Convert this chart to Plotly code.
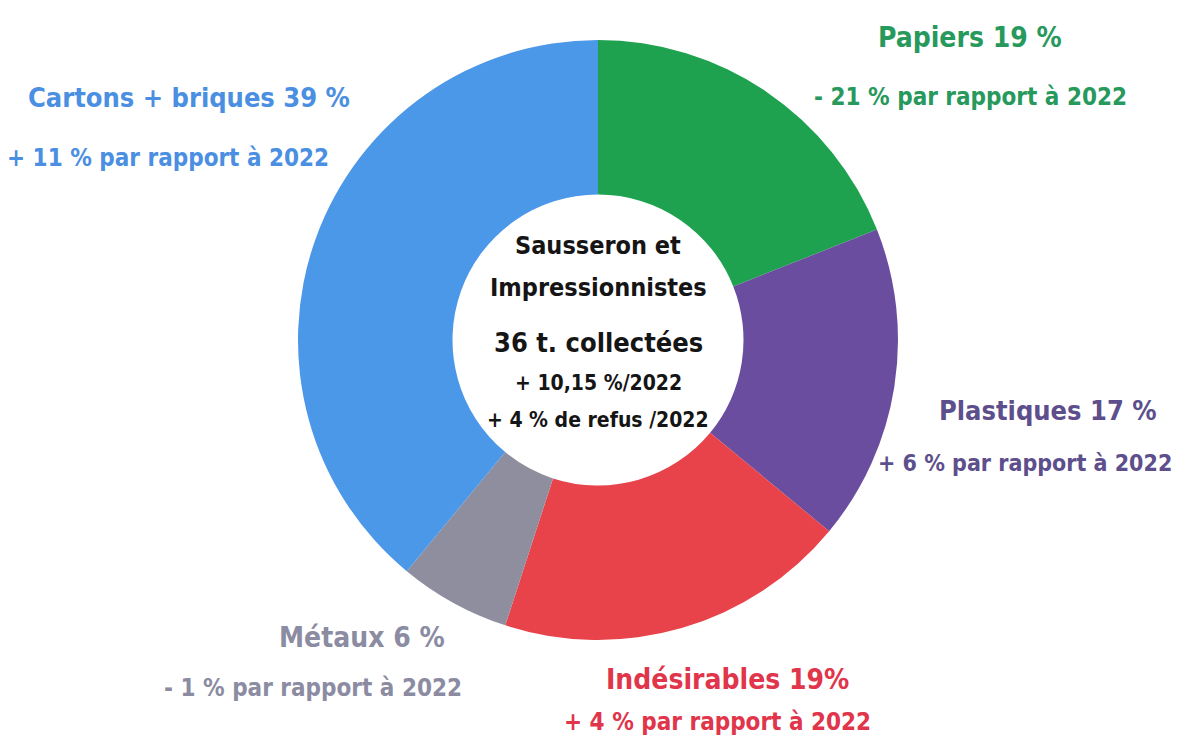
import plotly.graph_objects as go

# data
categories = ["Papiers", "Plastiques", "Indésirables", "Métaux", "Cartons + briques"]
shares = [19, 17, 19, 6, 39]
share_labels = ["Papiers 19 %", "Plastiques 17 %", "Indésirables 19%", "Métaux 6 %", "Cartons + briques 39 %"]
evolution = ["- 21 % par rapport à 2022", "+ 6 % par rapport à 2022", "+ 4 % par rapport à 2022",
             "- 1 % par rapport à 2022", "+ 11 % par rapport à 2022"]
center_lines = ["Sausseron et", "Impressionnistes", "36 t. collectées", "+ 10,15 %/2022", "+ 4 % de refus /2022"]

slice_colors = ["#1fa24f", "#6a4d9e", "#e8434a", "#8f8e9f", "#4b97e8"]
text_colors = ["#27995d", "#5d4e8c", "#e0354a", "#8b8ba2", "#4b8fe2"]

W, H = 1190, 744
OFF = 8  # page margin around the plot div
FONT = "DejaVu Sans Condensed, Roboto Condensed, Roboto, sans-serif"


def px(x):
    return (x - OFF) / W


def py(y):
    return 1 - (y - OFF) / H


R = 300
CX, CY = 598, 340

fig = go.Figure()
fig.add_trace(go.Pie(
    labels=categories,
    values=shares,
    sort=False,
    direction="clockwise",
    rotation=0,
    hole=0.485,
    marker=dict(colors=slice_colors, line=dict(width=0)),
    textinfo="none",
    hoverinfo="label+percent",
    domain=dict(x=[px(CX - R), px(CX + R)], y=[py(CY + R), py(CY - R)]),
    showlegend=False,
))

# label positions in pixels (title line, evolution line)
label_pos = [
    ((970, 38), (970, 97)),
    ((1048, 410), (1025, 463)),
    ((727, 679), (717, 722)),
    ((362, 637), (313, 688)),
    ((189, 97), (168, 158)),
]
title_size = [28, 27, 28, 28, 27]
evo_size = [24, 23, 24, 24, 24]

annotations = []
for i in range(len(categories)):
    (x1, y1), (x2, y2) = label_pos[i]
    annotations.append(dict(x=px(x1), y=py(y1), text="<b>" + share_labels[i] + "</b>",
                            font=dict(size=title_size[i], color=text_colors[i], family=FONT)))
    annotations.append(dict(x=px(x2), y=py(y2), text="<b>" + evolution[i] + "</b>",
                            font=dict(size=evo_size[i], color=text_colors[i], family=FONT)))

center_y = [245, 287, 343, 383, 420]
center_size = [25, 25, 27, 21, 21]
for t, y, s in zip(center_lines, center_y, center_size):
    annotations.append(dict(x=px(CX), y=py(y), text="<b>" + t + "</b>",
                            font=dict(size=s, color="#151515", family=FONT)))

for a in annotations:
    a.update(xref="paper", yref="paper", showarrow=False, xanchor="center", yanchor="middle")

fig.update_layout(
    width=W, height=H,
    margin=dict(l=0, r=0, t=0, b=0),
    paper_bgcolor="white",
    plot_bgcolor="white",
    annotations=annotations,
)

fig.write_html("out.html")
